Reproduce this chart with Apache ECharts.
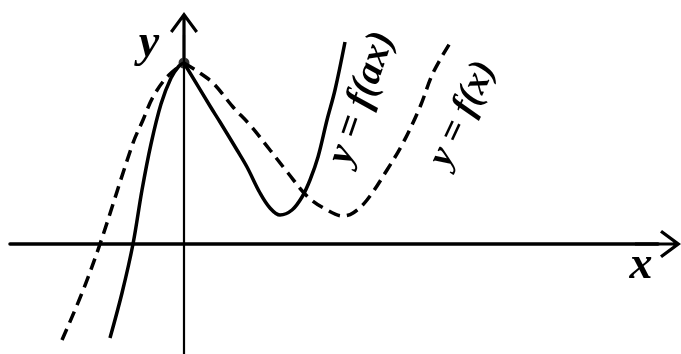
<!DOCTYPE html>
<html>
<head>
<meta charset="utf-8">
<script src="https://cdn.jsdelivr.net/npm/echarts@6/dist/echarts.min.js"></script>
<style>
  html, body { margin: 0; padding: 0; background: #fff; }
  #main { width: 681px; height: 354px; }
</style>
</head>
<body>
<div id="main"></div>
<script>
// y = f(ax), solid; each branch ends/starts at the peak
const solidLeftX = [-7.4, -6.2, -5.1, -4.2, -3.3, -2.3, -1.3, -0.5, 0];
const solidLeftY = [-9.4, -4.9, 0, 5.4, 10.0, 14.0, 16.6, 17.8, 18.1];
const solidRightX = [0, 2.6, 3.6, 5.3, 6.3, 7.6, 8.6, 9.6, 10.8, 11.8, 12.6, 13.4, 14.3, 15.1, 16.1];
const solidRightY = [18.1, 13.8, 12.2, 9.4, 7.7, 5.1, 3.6, 2.9, 3.4, 4.7, 6.4, 8.7, 12.4, 15.4, 20.2];

// y = f(x), dashed
const dashLeftX = [-12.2, -10.2, -8.4, -5.1, -4.1, -3.1, -1.7, 0];
const dashLeftY = [-9.6, -4.9, 0, 10.1, 12.4, 14.7, 16.7, 18.1];
const dashRightX = [0, 1.3, 2.9, 4.9, 6.6, 8.6, 10.4, 12.4, 14.3, 15.9, 16.9, 18.3, 20.3, 21.9, 23.6, 24.9, 26.6];
const dashRightY = [18.1, 17.3, 16.1, 13.7, 11.9, 9.4, 7.1, 4.7, 3.4, 2.8, 3.1, 4.4, 7.4, 10.1, 13.7, 17.1, 20.1];

// shared maximum of both curves
const peak = [0, 18.1];

const solidLabel = 'y = f(ax)';
const dashLabel = 'y = f(x)';

const chart = echarts.init(document.getElementById('main'));

// open arrow head with a short stem, pointing up
const arrowPath = 'path://M14 0 L28 19 L25.5 21 L15.6 7.5 L15.6 46 L12.4 46 L12.4 7.5 L2.5 21 L0 19 Z';

function pairs(xs, ys) {
    return xs.map((x, i) => [x, ys[i]]);
}

function curve(xs, ys, dashed) {
    return {
        type: 'line',
        data: pairs(xs, ys),
        symbol: 'none',
        smooth: 0.35,
        lineStyle: { color: '#000', width: 3.5, type: dashed ? [12, 7] : 'solid' }
    };
}

function mathText(text, x, y, size, deg) {
    return {
        type: 'text', x: x, y: y, rotation: (deg || 0) * Math.PI / 180,
        style: {
            text: text,
            fontFamily: 'Liberation Serif',
            fontStyle: 'italic',
            fontWeight: 'bold',
            fontSize: size,
            fill: '#000',
            align: 'center',
            verticalAlign: 'middle'
        }
    };
}

chart.setOption({
    animation: false,
    backgroundColor: '#fff',
    grid: { left: 10, right: 23, top: 35, bottom: 0 },
    xAxis: {
        type: 'value',
        min: -17.4,
        max: 47.4,
        axisLine: {
            onZero: true,
            symbol: ['none', arrowPath],
            symbolSize: [32, 46],
            lineStyle: { color: '#000', width: 3.5 }
        },
        axisTick: { show: false },
        axisLabel: { show: false },
        splitLine: { show: false }
    },
    yAxis: {
        type: 'value',
        min: -11,
        max: 20.9,
        axisLine: {
            onZero: true,
            symbol: ['none', arrowPath],
            symbolSize: [28, 46],
            lineStyle: { color: '#000', width: 2.2 }
        },
        axisTick: { show: false },
        axisLabel: { show: false },
        splitLine: { show: false }
    },
    series: [
        curve(dashLeftX, dashLeftY, true),
        curve(dashRightX, dashRightY, true),
        curve(solidLeftX, solidLeftY, false),
        curve(solidRightX, solidRightY, false),
        {
            type: 'scatter',
            data: [peak],
            symbol: 'circle',
            symbolSize: 11,
            itemStyle: { color: '#000' }
        }
    ],
    graphic: [
        mathText('y', 149, 44, 46),
        mathText('x', 641, 266, 46),
        mathText(solidLabel, 362, 98, 39, 71),
        mathText(dashLabel, 463, 114, 37, 65)
    ]
});
</script>
</body>
</html>
